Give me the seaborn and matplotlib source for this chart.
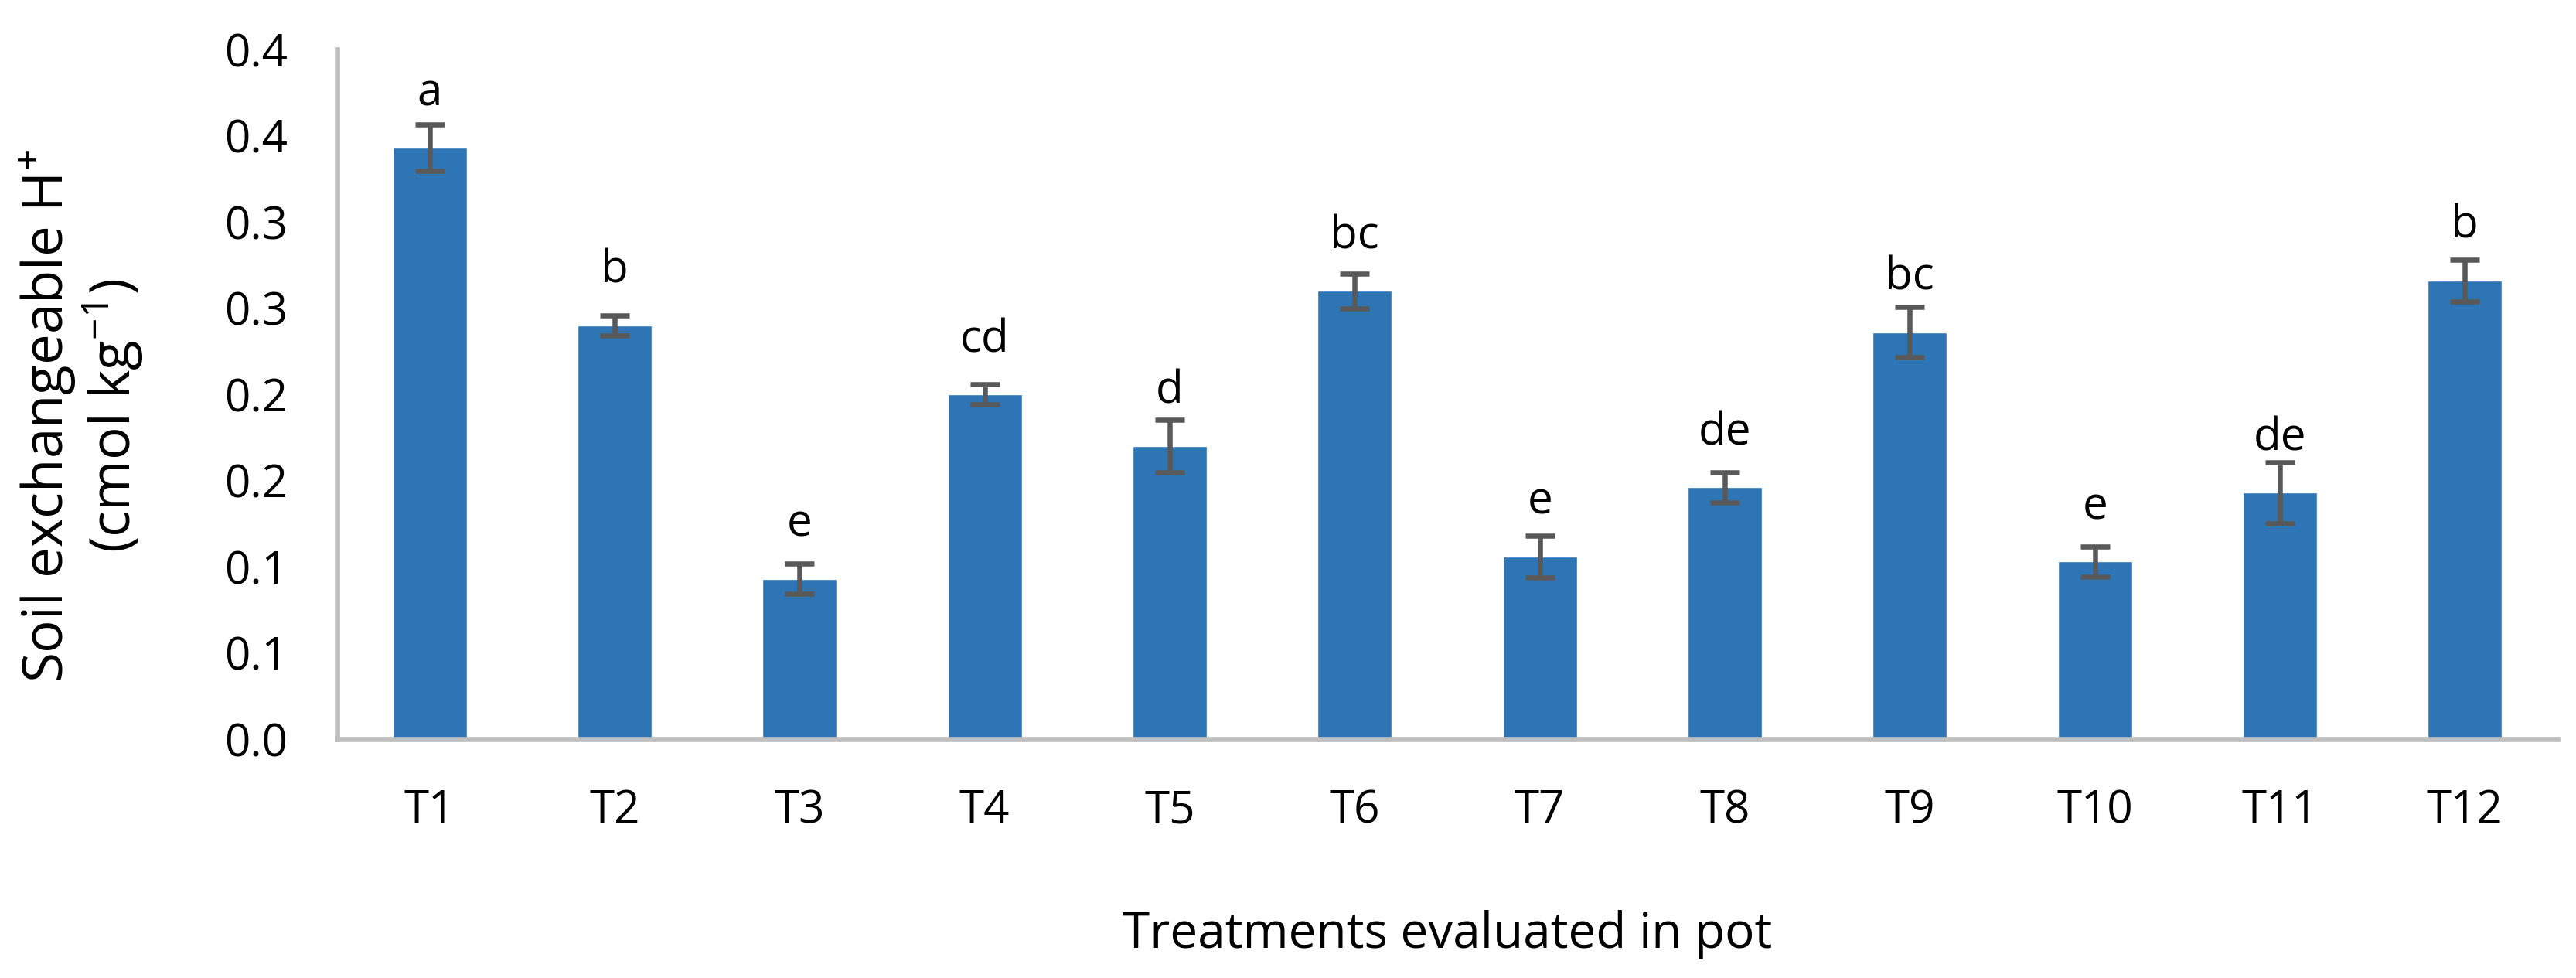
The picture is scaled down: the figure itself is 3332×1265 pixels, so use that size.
import matplotlib
matplotlib.use("Agg")
import matplotlib.pyplot as plt
import seaborn as sns
import pandas as pd

# ---- data ----
treatments = ["T1", "T2", "T3", "T4", "T5", "T6", "T7", "T8", "T9", "T10", "T11", "T12"]
h_values = [0.343, 0.240, 0.093, 0.200, 0.170, 0.260, 0.106, 0.146, 0.236, 0.103, 0.143, 0.266]
h_errors = [0.0134, 0.0059, 0.0089, 0.0058, 0.0154, 0.0101, 0.0121, 0.0088, 0.0145, 0.0088, 0.0177, 0.0121]
letters = ["a", "b", "e", "cd", "d", "bc", "e", "de", "bc", "e", "de", "b"]
y_ticks = [0.0, 0.05, 0.10, 0.15, 0.20, 0.25, 0.30, 0.35, 0.40]
y_tick_labels = ["0.0", "0.1", "0.1", "0.2", "0.2", "0.3", "0.3", "0.4", "0.4"]

df = pd.DataFrame({"treatment": treatments, "value": h_values})

sns.set_style("white")
FONT = "Open Sans"
plt.rcParams["font.family"] = [FONT, "DejaVu Sans"]
plt.rcParams["mathtext.fontset"] = "custom"
plt.rcParams["mathtext.rm"] = FONT

W, H = 3332, 1265
fig = plt.figure(figsize=(W / 100, H / 100), dpi=100)
ax = fig.add_axes([436 / W, 1 - 956 / H, (3308 - 436) / W, (956 - 64) / H])

bar_color = "#2E75B6"
sns.barplot(data=df, x="treatment", y="value", color=bar_color, width=0.4,
            errorbar=None, saturation=1, ax=ax, zorder=2)

ax.errorbar(x=list(range(len(treatments))), y=h_values, yerr=h_errors, fmt="none",
            ecolor="#595959", elinewidth=4.7, capsize=13.7, capthick=4.7, zorder=3)

for i, (v, lab) in enumerate(zip(h_values, letters)):
    ax.annotate(lab, xy=(i, v), xytext=(0, 39.6), textcoords="offset points",
                ha="center", va="baseline", fontsize=42, color="black")

ax.set_xlim(-0.5, len(treatments) - 0.5)
ax.set_ylim(0, 0.4)
ax.set_yticks(y_ticks)
ax.set_yticklabels(y_tick_labels)

ax.tick_params(axis="both", length=0, labelsize=42, colors="black")
ax.tick_params(axis="y", pad=46)
ax.tick_params(axis="x", pad=46)

for s in ["top", "right"]:
    ax.spines[s].set_visible(False)
for s in ["left", "bottom"]:
    ax.spines[s].set_color("#BFBFBF")
    ax.spines[s].set_linewidth(4.8)

ax.set_xlabel("Treatments evaluated in pot", fontsize=46, color="black")
ax.xaxis.set_label_coords(0.5, -(1226 - 956) / (956 - 64))
ax.xaxis.label.set_va("baseline")

ax.set_ylabel("Soil exchangeable H$^{+}$\n(cmol kg$^{-1}$)", fontsize=51,
              color="black", multialignment="center", linespacing=1.05)
ax.yaxis.set_label_coords(-(437 - 189) / (3308 - 437), 0.469)

fig.savefig("out.png", dpi=100, facecolor="white")
